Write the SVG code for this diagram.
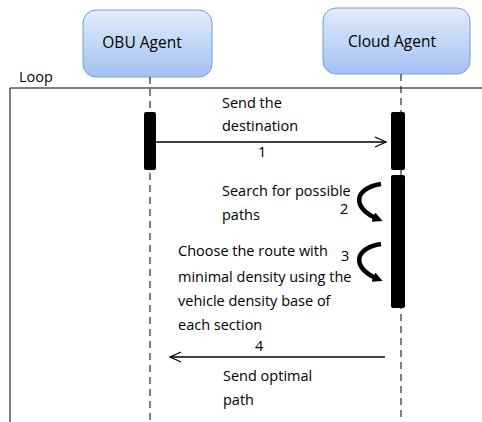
<svg xmlns="http://www.w3.org/2000/svg" width="482" height="422" viewBox="0 0 482 422">
<defs>
<linearGradient id="g" x1="0" y1="0" x2="0" y2="1">
<stop offset="0" stop-color="#e3ecfb"/>
<stop offset="1" stop-color="#a3c1f3"/>
</linearGradient>
<marker id="open" markerWidth="14" markerHeight="12" refX="12" refY="6" orient="auto" markerUnits="userSpaceOnUse">
<path d="M1,1 L12,6 L1,11" fill="none" stroke="#000" stroke-width="1.3"/>
</marker>
<marker id="solid" markerWidth="10" markerHeight="10" refX="5" refY="5" orient="auto" markerUnits="userSpaceOnUse">
<path d="M0,0 L10,5 L0,10 Z" fill="#000"/>
</marker>
</defs>
<style>
.box{fill:url(#g);stroke:#7c9bd0;stroke-width:1}
.t{font-family:"Open Sans","Liberation Sans",sans-serif;font-size:14.5px;fill:#000}
.h{font-size:15.5px}
.life{stroke:#000;stroke-width:1;stroke-dasharray:7,5}
.act{fill:#000}
.msg{stroke:#000;stroke-width:1.3;fill:none}
.self{stroke:#000;stroke-width:4.5;fill:none}
</style>
<rect width="482" height="422" fill="#fff"/>
<g id="loop">
<path d="M482,88 H10 V422" fill="none" stroke="#000" stroke-width="1"/>
<text class="t" x="19" y="82">Loop</text>
</g>
<g id="obu">
<rect class="box" x="83" y="10" width="129" height="67" rx="13"/>
<text class="t h" x="142" y="48" text-anchor="middle">OBU Agent</text>
<line class="life" x1="150" y1="77" x2="150" y2="422"/>
<rect class="act" x="144" y="112" width="12" height="58" rx="2"/>
</g>
<g id="cloud">
<rect class="box" x="323" y="8" width="147" height="66" rx="13"/>
<text class="t h" x="392" y="47" text-anchor="middle">Cloud Agent</text>
<line class="life" x1="401" y1="74" x2="401" y2="422"/>
<rect class="act" x="391" y="112" width="14" height="58" rx="2"/>
<rect class="act" x="391" y="175" width="14" height="133" rx="2"/>
</g>
<g id="connectors">
<line class="msg" x1="156" y1="142" x2="386" y2="142" marker-end="url(#open)"/>
<path class="self" d="M381,184 C354,188 351,208 378,219" marker-end="url(#solid)"/>
<path class="self" d="M381,244 C354,248 351,268 378,279" marker-end="url(#solid)"/>
<line class="msg" x1="385" y1="357" x2="170" y2="357" marker-end="url(#open)"/>
</g>
<g id="labels">
<text class="t" x="222" y="108">Send the</text>
<text class="t" x="222" y="131">destination</text>
<text class="t" x="258" y="157">1</text>
<text class="t" x="222" y="196">Search for possible</text>
<text class="t" x="222" y="220">paths</text>
<text class="t" x="340" y="214">2</text>
<text class="t" x="178" y="256">Choose the route with</text>
<text class="t" x="178" y="282">minimal density using the</text>
<text class="t" x="178" y="306">vehicle density base of</text>
<text class="t" x="178" y="330">each section</text>
<text class="t" x="341" y="261">3</text>
<text class="t" x="255" y="351">4</text>
<text class="t" x="223" y="381">Send optimal</text>
<text class="t" x="223" y="405">path</text>
</g>
</svg>
